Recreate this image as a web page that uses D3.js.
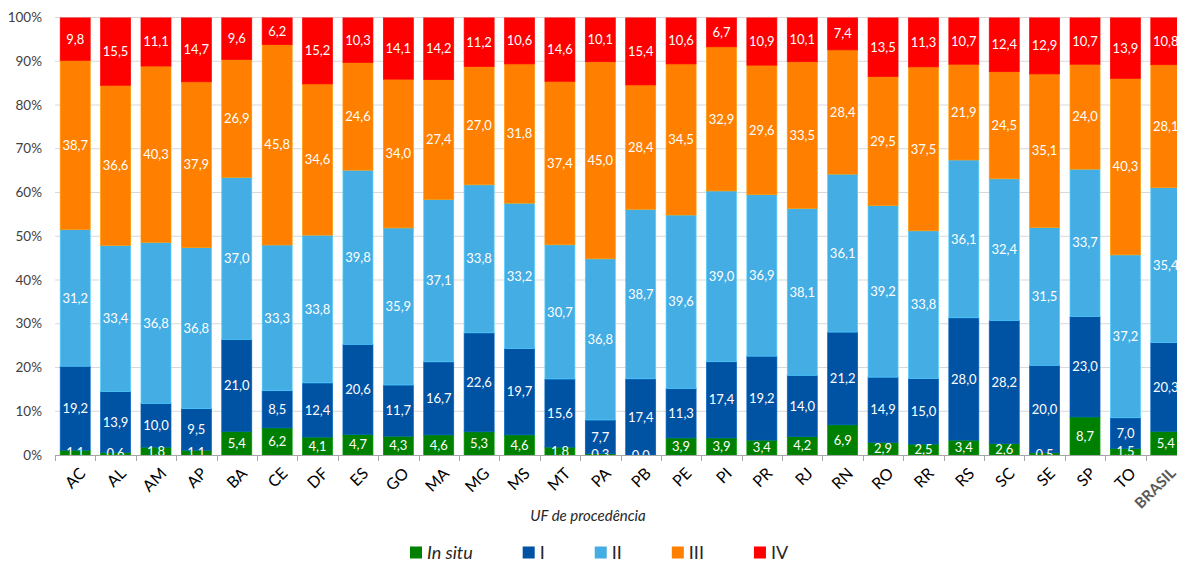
<!DOCTYPE html>
<html>
<head>
<meta charset="utf-8">
<script src="https://cdn.jsdelivr.net/npm/d3@7"></script>
<style>
  html, body { margin: 0; padding: 0; background: #fff; }
  svg { display: block; font-family: Lato, "Noto Sans", sans-serif; }
</style>
</head>
<body>
<svg id="chart" width="1177" height="562"></svg>
<script>
const ufs = ["AC", "AL", "AM", "AP", "BA", "CE", "DF", "ES", "GO", "MA", "MG", "MS", "MT", "PA",
  "PB", "PE", "PI", "PR", "RJ", "RN", "RO", "RR", "RS", "SC", "SE", "SP", "TO", "BRASIL"];

const inSitu = [1.1, 0.6, 1.8, 1.1, 5.4, 6.2, 4.1, 4.7, 4.3, 4.6, 5.3, 4.6, 1.8, 0.3,
  0.0, 3.9, 3.9, 3.4, 4.2, 6.9, 2.9, 2.5, 3.4, 2.6, 0.5, 8.7, 1.5, 5.4];
const classI = [19.2, 13.9, 10.0, 9.5, 21.0, 8.5, 12.4, 20.6, 11.7, 16.7, 22.6, 19.7, 15.6, 7.7,
  17.4, 11.3, 17.4, 19.2, 14.0, 21.2, 14.9, 15.0, 28.0, 28.2, 20.0, 23.0, 7.0, 20.3];
const classII = [31.2, 33.4, 36.8, 36.8, 37.0, 33.3, 33.8, 39.8, 35.9, 37.1, 33.8, 33.2, 30.7, 36.8,
  38.7, 39.6, 39.0, 36.9, 38.1, 36.1, 39.2, 33.8, 36.1, 32.4, 31.5, 33.7, 37.2, 35.4];
const classIII = [38.7, 36.6, 40.3, 37.9, 26.9, 45.8, 34.6, 24.6, 34.0, 27.4, 27.0, 31.8, 37.4, 45.0,
  28.4, 34.5, 32.9, 29.6, 33.5, 28.4, 29.5, 37.5, 21.9, 24.5, 35.1, 24.0, 40.3, 28.1];
const classIV = [9.8, 15.5, 11.1, 14.7, 9.6, 6.2, 15.2, 10.3, 14.1, 14.2, 11.2, 10.6, 14.6, 10.1,
  15.4, 10.6, 6.7, 10.9, 10.1, 7.4, 13.5, 11.3, 10.7, 12.4, 12.9, 10.7, 13.9, 10.8];

const seriesNames = ["In situ", "I", "II", "III", "IV"];
const seriesValues = [inSitu, classI, classII, classIII, classIV];
const seriesColors = ["#008000", "#0052a3", "#44ade4", "#ff8000", "#ff0000"];
const yTicks = [0, 0.1, 0.2, 0.3, 0.4, 0.5, 0.6, 0.7, 0.8, 0.9, 1];
const axisTitle = "UF de procedência";

const svg = d3.select("#chart");
const plot = { left: 55, right: 1186, top: 17.5, bottom: 455 };

const rows = ufs.map((uf, i) => {
  const r = { uf };
  seriesNames.forEach((s, k) => { r[s] = seriesValues[k][i]; });
  return r;
});

const stacked = d3.stack().keys(seriesNames).offset(d3.stackOffsetExpand)(rows);

const x = d3.scaleBand().domain(ufs).range([plot.left, plot.right])
  .paddingInner(0.257).paddingOuter(0.1285);
const y = d3.scaleLinear().domain([0, 1]).range([plot.bottom, plot.top]);
const color = d3.scaleOrdinal().domain(seriesNames).range(seriesColors);

svg.append("clipPath").attr("id", "plot-clip")
  .append("rect").attr("x", plot.left).attr("y", plot.top)
  .attr("width", plot.right - plot.left).attr("height", plot.bottom - plot.top);

// gridlines
svg.append("g").selectAll("line").data(yTicks.slice(1)).join("line")
  .attr("x1", plot.left).attr("x2", plot.right)
  .attr("y1", d => y(d)).attr("y2", d => y(d))
  .attr("stroke", "#d9d9d9").attr("stroke-width", 1);

// y labels
svg.append("g").selectAll("text").data(yTicks).join("text")
  .attr("x", 42).attr("y", d => y(d)).attr("dy", "0.35em")
  .attr("text-anchor", "end").attr("font-size", 13.5).attr("fill", "#404040")
  .text(d => d3.format(".0%")(d));

// bars
const barsG = svg.append("g").attr("clip-path", "url(#plot-clip)");
const layer = barsG.selectAll("g.layer").data(stacked).join("g").attr("class", "layer");
layer.selectAll("rect").data(d => d.map(p => ({ p, key: d.key }))).join("rect")
  .attr("x", d => x(d.p.data.uf))
  .attr("width", x.bandwidth())
  .attr("y", d => y(d.p[1]))
  .attr("height", d => y(d.p[0]) - y(d.p[1]))
  .attr("fill", d => color(d.key))
  .attr("stroke", d => d3.color(color(d.key)).brighter(0.5))
  .attr("stroke-width", 0.7);

// data labels
const labelsG = svg.append("g").attr("clip-path", "url(#plot-clip)");
stacked.forEach(s => {
  labelsG.append("g").selectAll("text").data(s).join("text")
    .attr("x", p => x(p.data.uf) + x.bandwidth() / 2)
    .attr("y", p => (y(p[0]) + y(p[1])) / 2)
    .attr("dy", "0.36em")
    .attr("text-anchor", "middle")
    .attr("font-size", 13)
    .attr("fill", "#fff")
    .text(p => p.data[s.key].toFixed(1).replace(".", ","));
});

// x axis line and ticks
const axisG = svg.append("g").attr("stroke", "#a6a6a6").attr("stroke-width", 1);
axisG.append("line").attr("x1", plot.left).attr("x2", plot.right)
  .attr("y1", plot.bottom + 0.5).attr("y2", plot.bottom + 0.5);
const boundaries = ufs.map(u => x(u) - (x.step() - x.bandwidth()) / 2).concat([plot.right]);
axisG.selectAll("line.tick").data(boundaries).join("line").attr("class", "tick")
  .attr("x1", d => Math.round(d) + 0.5).attr("x2", d => Math.round(d) + 0.5)
  .attr("y1", plot.bottom).attr("y2", plot.bottom + 6);

// x labels
svg.append("g").selectAll("text").data(ufs).join("text")
  .attr("transform", d => `translate(${x(d) + x.bandwidth() / 2 + 3},${plot.bottom + 11}) rotate(-45)`)
  .attr("text-anchor", "end")
  .attr("dy", "0.75em")
  .attr("font-size", d => d === "BRASIL" ? 15 : 16)
  .attr("font-weight", d => d === "BRASIL" ? "bold" : "normal")
  .attr("fill", d => d === "BRASIL" ? "#595959" : "#000")
  .text(d => d);

// axis title
svg.append("text").attr("x", 588).attr("y", 521)
  .attr("text-anchor", "middle").attr("font-size", 15).attr("font-style", "italic")
  .attr("fill", "#262626").text(axisTitle);

// legend
const legend = svg.append("g");
let lx = 410;
seriesNames.forEach((s, k) => {
  const item = legend.append("g");
  item.append("rect").attr("x", lx).attr("y", 546.5).attr("width", 12).attr("height", 12)
    .attr("fill", seriesColors[k]);
  const t = item.append("text").attr("x", lx + 17).attr("y", 559)
    .attr("font-size", 18).attr("fill", "#262626")
    .attr("font-style", s === "In situ" ? "italic" : "normal")
    .text(s);
  lx += 17 + t.node().getComputedTextLength() + 50;
});
</script>
</body>
</html>
